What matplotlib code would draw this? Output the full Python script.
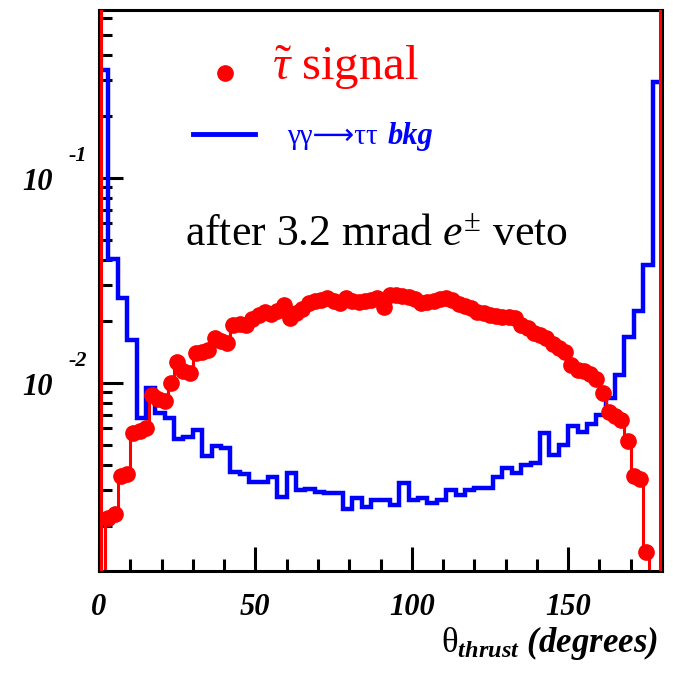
import numpy as np
import matplotlib.pyplot as plt
from matplotlib.ticker import MultipleLocator, NullFormatter, FixedLocator
from matplotlib.transforms import blended_transform_factory, offset_copy

plt.rcParams['mathtext.fontset'] = 'custom'
plt.rcParams['mathtext.rm'] = 'Liberation Serif'
plt.rcParams['mathtext.it'] = 'Liberation Serif:italic'
plt.rcParams['mathtext.bf'] = 'Liberation Serif:bold'
plt.rcParams['mathtext.bfit'] = 'Liberation Serif:bold:italic'

# stau signal, 2 degree bins in theta_thrust
sig_bin_width = 2
sig = [0, 2.2e-3, 2.3e-3, 3.5e-3, 3.6e-3, 5.7e-3, 5.8e-3, 6.0e-3, 8.7e-3, 8.4e-3,
       8.2e-3, 1.0e-2, 1.27e-2, 1.15e-2, 1.12e-2, 1.40e-2, 1.42e-2, 1.45e-2, 1.65e-2, 1.60e-2,
       1.56e-2, 1.92e-2, 1.95e-2, 1.92e-2, 2.05e-2, 2.15e-2, 2.23e-2, 2.18e-2, 2.25e-2, 2.40e-2,
       2.07e-2, 2.20e-2, 2.30e-2, 2.45e-2, 2.50e-2, 2.54e-2, 2.60e-2, 2.50e-2, 2.45e-2, 2.59e-2,
       2.50e-2, 2.48e-2, 2.50e-2, 2.55e-2, 2.59e-2, 2.36e-2, 2.68e-2, 2.70e-2, 2.66e-2, 2.62e-2,
       2.58e-2, 2.45e-2, 2.47e-2, 2.50e-2, 2.58e-2, 2.59e-2, 2.54e-2, 2.42e-2, 2.38e-2, 2.32e-2,
       2.22e-2, 2.19e-2, 2.15e-2, 2.12e-2, 2.10e-2, 2.10e-2, 2.07e-2, 1.92e-2, 1.85e-2, 1.75e-2,
       1.71e-2, 1.66e-2, 1.55e-2, 1.48e-2, 1.42e-2, 1.22e-2, 1.16e-2, 1.14e-2, 1.10e-2, 1.05e-2,
       8.9e-3, 7.2e-3, 6.9e-3, 6.6e-3, 5.2e-3, 3.5e-3, 3.4e-3, 1.5e-3, 0, 0]

# gamma gamma -> tau tau background, 3 degree bins
bkg_bin_width = 3
bkg = [0.336, 4.04e-2, 2.59e-2, 1.62e-2, 6.73e-3, 9.42e-3, 7.12e-3, 6.73e-3, 5.31e-3, 5.47e-3,
       5.90e-3, 4.41e-3, 4.94e-3, 4.80e-3, 3.69e-3, 3.60e-3, 3.30e-3, 3.30e-3, 3.47e-3, 2.77e-3,
       3.65e-3, 3.00e-3, 3.03e-3, 2.93e-3, 2.90e-3, 2.92e-3, 2.42e-3, 2.74e-3, 2.47e-3, 2.68e-3,
       2.68e-3, 2.54e-3, 3.25e-3, 2.68e-3, 2.74e-3, 2.61e-3, 2.68e-3, 2.99e-3, 2.84e-3, 2.99e-3,
       3.06e-3, 3.06e-3, 3.49e-3, 3.84e-3, 3.63e-3, 3.98e-3, 4.06e-3, 5.73e-3, 4.46e-3, 4.99e-3,
       6.19e-3, 5.78e-3, 6.29e-3, 6.98e-3, 8.42e-3, 1.09e-2, 1.67e-2, 2.25e-2, 3.77e-2, 0.295]

x_major = [0, 50, 100, 150]
y_major = [1e-2, 1e-1]

sig_edges = np.arange(len(sig) + 1) * sig_bin_width
sig_centers = 0.5 * (sig_edges[:-1] + sig_edges[1:])
bkg_edges = np.arange(len(bkg) + 1) * bkg_bin_width

RED = '#ff0000'
BLUE = '#0000ff'
tick_font = dict(family='Liberation Serif', weight='bold', style='italic')

fig = plt.figure(figsize=(6.73, 6.76), dpi=100)
ax = fig.add_axes([99 / 673, 1 - 571 / 676, 563 / 673, 561 / 676])
ax.set_yscale('log', nonpositive='clip')
ax.set_xlim(0, 180)
ax.set_ylim(1.21e-3, 0.66)

ax.stairs(bkg, bkg_edges, baseline=ax.get_ylim()[0], color=BLUE, lw=3.2, zorder=3)
ax.plot(sig_centers, sig, drawstyle='steps-mid', color=RED, lw=2.2,
        marker='o', ms=11, mec=RED, mfc=RED, zorder=4)
# empty end bins of the signal run up the whole frame
for edge in (sig_edges[0] + 0.6, sig_edges[-1] - 0.6):
    ax.axvline(edge, color=RED, lw=2.2, zorder=6)

for s in ax.spines.values():
    s.set_linewidth(2.2)
    s.set_zorder(5)

ax.xaxis.set_major_locator(FixedLocator(x_major))
ax.xaxis.set_minor_locator(MultipleLocator(10))
ax.tick_params(which='both', direction='in', top=False, right=False, width=2.2)
ax.tick_params(which='major', length=17)
ax.tick_params(which='minor', length=9)
ax.tick_params(axis='x', pad=16)
ax.set_xticklabels([str(v) for v in x_major], fontsize=22, **tick_font)
ax.yaxis.set_major_formatter(NullFormatter())
ax.yaxis.set_minor_formatter(NullFormatter())

# ROOT-style 10^n labels: base and exponent set apart
ytrans = blended_transform_factory(ax.transAxes, ax.transData)
for v in y_major:
    ax.text(-0.082, v, '10', transform=offset_copy(ytrans, fig=fig, y=-8.6, units='points'),
            ha='right', va='baseline', fontsize=22, **tick_font)
    ax.text(-0.055, v, str(int(np.log10(v))),
            transform=offset_copy(ytrans, fig=fig, y=12, units='points'),
            ha='left', va='baseline', fontsize=16, **tick_font)

# legend keys
ax.plot([0.224], [0.888], 'o', color=RED, ms=11, transform=ax.transAxes, clip_on=False)
ax.text(0.307, 0.875, r'$\tilde{\mathit{\tau}}$ signal', color=RED, fontsize=35,
        family='Liberation Serif', transform=ax.transAxes, va='baseline')
ax.plot([0.167, 0.277], [0.779, 0.779], color=BLUE, lw=3.5, transform=ax.transAxes)
ax.text(0.334, 0.761, 'γγ⟶ττ', color=BLUE, fontsize=21,
        family=['Liberation Serif', 'DejaVu Sans'], transform=ax.transAxes, va='baseline')
ax.text(0.512, 0.761, 'bkg', color=BLUE, fontsize=22, transform=ax.transAxes,
        va='baseline', **tick_font)

ax.text(0.152, 0.581, r'after 3.2 mrad $e^{\pm}$ veto', fontsize=31.5,
        family='Liberation Serif', transform=ax.transAxes, va='baseline')

fig.text(658 / 673, 1 - 652 / 676,
         r'$\mathrm{\theta}_{\mathbfit{thrust}}$ $\mathbfit{(degrees)}$',
         fontsize=25, family='Liberation Serif', ha='right', va='baseline')

fig.savefig('out.png', dpi=100)
